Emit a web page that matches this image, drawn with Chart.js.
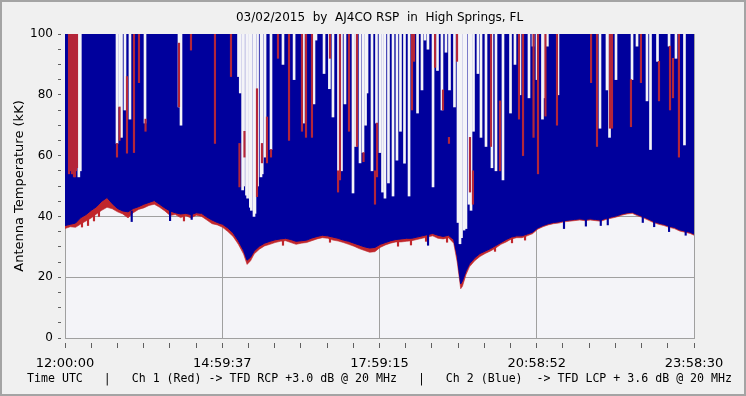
<!DOCTYPE html>
<html>
<head>
<meta charset="utf-8">
<script src="https://cdn.jsdelivr.net/npm/chart.js@4/dist/chart.umd.min.js"></script>
<style>
html, body { margin: 0; padding: 0; background: #f0f0f0; }
#wrap { width: 746px; height: 396px; }
</style>
</head>
<body>
<div id="wrap"><canvas id="chart" width="746" height="396"></canvas></div>
<script>
// time axis is minutes after 12:00:00 UTC, end at 23:58:30
const spanMinutes = 718.5;
const majorLabels = ['12:00:00', '14:59:37', '17:59:15', '20:58:52', '23:58:30'];
const titleText = '03/02/2015  by  AJ4CO RSP  in  High Springs, FL';
const xTitleText = 'Time UTC   |   Ch 1 (Red) -> TFD RCP +3.0 dB @ 20 MHz   |   Ch 2 (Blue)  -> TFD LCP + 3.6 dB @ 20 MHz';

// lower edge of the two channels (kK)
const envTimes = [0, 6, 12, 18, 24, 30, 36, 42, 48, 54, 60, 66,
    72, 78, 84, 90, 96, 102, 108, 114, 120, 126, 132, 138,
    144, 150, 156, 162, 168, 174, 180, 186, 192, 198, 204, 208,
    212, 216, 222, 228, 234, 240, 246, 252, 258, 264, 270, 276,
    282, 288, 294, 300, 306, 312, 318, 324, 330, 336, 342, 348,
    354, 360, 366, 372, 378, 384, 390, 396, 402, 408, 414, 420,
    426, 432, 438, 444, 448, 452, 454, 458, 462, 468, 474, 480,
    486, 492, 498, 504, 510, 516, 522, 528, 534, 540, 546, 552,
    558, 564, 570, 576, 582, 588, 594, 600, 606, 612, 618, 624,
    630, 636, 642, 648, 654, 660, 666, 672, 678, 684, 690, 696,
    702, 708, 714, 718.5];
const redLow = [36.0, 36.6, 36.4, 37.5, 38.5, 39.5, 40.8, 42.0, 43.0, 42.5, 41.5, 40.8,
    39.5, 41.2, 42.3, 42.8, 43.6, 44.0, 43.0, 41.8, 40.3, 40.6, 39.6, 40.2,
    39.5, 40.4, 40.0, 38.8, 37.6, 37.2, 36.4, 35.0, 33.4, 30.8, 27.6, 24.2,
    25.4, 27.6, 29.2, 30.3, 30.8, 31.4, 31.8, 32.0, 31.4, 30.8, 31.2, 31.4,
    32.0, 32.6, 33.0, 32.8, 32.2, 31.9, 31.4, 30.8, 30.2, 29.4, 28.8, 28.2,
    28.4, 29.8, 30.6, 31.2, 31.6, 31.6, 31.8, 32.0, 32.4, 32.8, 33.2, 33.6,
    32.8, 32.6, 33.0, 31.2, 25.0, 16.2, 17.0, 20.8, 23.4, 25.4, 26.8, 27.8,
    28.6, 29.6, 30.8, 31.6, 32.6, 33.0, 33.0, 33.6, 34.3, 35.8, 36.6, 37.2,
    37.6, 37.8, 38.2, 38.4, 38.6, 38.8, 38.6, 38.8, 38.6, 38.4, 39.0, 39.4,
    39.8, 40.4, 40.8, 41.0, 40.2, 39.6, 38.8, 38.0, 37.4, 37.0, 36.4, 36.0,
    35.2, 34.8, 34.4, 33.8];
const blueLow = [37.0, 37.4, 37.8, 39.6, 40.6, 42.0, 43.2, 45.0, 46.2, 44.2, 42.6, 41.8,
    41.5, 42.6, 43.2, 44.0, 44.6, 45.2, 44.0, 42.8, 41.8, 41.2, 40.8, 41.0,
    40.6, 41.2, 41.0, 39.8, 38.8, 38.0, 37.4, 36.2, 34.6, 32.0, 28.8, 25.6,
    26.6, 28.6, 30.2, 31.2, 31.8, 32.3, 32.6, 32.8, 32.4, 31.8, 32.0, 32.2,
    32.9, 33.4, 33.8, 33.6, 33.2, 32.8, 32.2, 31.8, 31.2, 30.6, 30.0, 29.6,
    29.8, 30.8, 31.4, 32.0, 32.4, 32.6, 32.8, 32.8, 33.2, 33.6, 34.0, 34.4,
    33.8, 33.4, 33.8, 32.4, 27.0, 17.8, 18.8, 22.0, 24.4, 26.4, 27.8, 28.6,
    29.4, 30.4, 31.4, 32.4, 33.2, 33.6, 33.6, 34.2, 34.8, 36.2, 37.0, 37.6,
    38.0, 38.2, 38.6, 38.8, 39.0, 39.2, 39.0, 39.2, 39.0, 38.8, 39.4, 39.8,
    40.2, 40.8, 41.2, 41.4, 40.6, 40.0, 39.2, 38.4, 37.8, 37.4, 36.8, 36.4,
    35.6, 35.2, 34.8, 34.2];

// short dips under the lower edge: minute, lowest value
const blueDipTimes = [76.2, 120.0, 144.7, 414.7, 570.0, 595.0, 612.0, 620.0, 660.0, 673.0, 690.0, 709.0];
const blueDipLows = [38.3, 38.6, 39.0, 30.5, 36.0, 36.8, 37.0, 37.2, 38.0, 36.6, 35.0, 33.8];
const redDipTimes = [19.4, 26.3, 33.1, 38.8, 135.9, 249.0, 302.7, 380.4, 395.2, 412.4, 436.4, 491.2, 510.6, 525.5];
const redDipLows = [36.5, 37.0, 38.5, 40.0, 38.5, 30.5, 31.5, 30.2, 30.6, 31.8, 31.5, 28.5, 31.3, 32.2];

// columns where neither channel reaches the top: minute, lowest empty value
const gapTimes = [15.8, 17.5, 59.4, 62.3, 64.5, 68.5, 74.2, 91.4, 130.2, 132.5,
    198.2, 200.2, 202.9, 204.0, 207.3, 208.6, 211.7, 212.9, 215.9, 217.0,
    220.0, 223.9, 225.3, 228.5, 235.3, 249.0, 261.7, 272.4, 284.4, 286.7,
    295.9, 302.0, 306.1, 312.4, 315.8, 319.8, 329.0, 331.8, 337.0, 340.4,
    343.3, 345.0, 350.7, 355.8, 359.8, 362.7, 365.5,
    369.5, 374.7, 379.2, 383.2, 387.8, 393.0, 402.7, 407.8, 411.2, 414.6,
    420.4, 425.5, 430.6, 435.2, 439.2, 444.9, 448.9, 451.2, 452.9, 455.8,
    458.0, 461.5, 463.8, 466.6, 471.7, 475.2, 480.9, 487.7, 492.3, 500.3,
    508.9, 514.0, 519.7, 530.0, 534.6, 539.2, 545.4, 547.7, 551.0, 563.1,
    611.1, 619.1, 622.0, 629.4, 647.7, 653.4, 664.8, 668.8, 676.8, 690.0,
    697.9, 707.6];
const gapLows = [53, 55, 64, 76, 66, 75, 72, 70.7, 76, 70,
    86, 80.6, 48.7, 50, 47, 46, 43, 42, 40, 41,
    50, 53, 54, 59.5, 62, 90, 85, 70.7, 77, 98,
    87, 82, 72.7, 54, 55, 77, 47.7, 63, 57.6, 61,
    70, 80.6, 55, 70.7, 61, 48, 46,
    51, 46.7, 58.5, 68, 57.5, 46.7, 74, 81.6, 98, 95,
    49.7, 88, 75, 94, 81.6, 76, 38, 31, 33, 35.5,
    36, 44, 42, 68, 87, 66, 63, 56, 55, 52,
    74, 90, 80, 79, 96, 85, 72, 79, 96, 80,
    69, 81.6, 66, 85, 85, 96, 78, 62, 91, 96,
    92, 63.5];

// Ch 1 (red) spikes showing above the blue: minute, low, high
const redSpikeTimes = [4.6, 5.7, 6.9, 8.0, 9.1, 10.3, 11.4, 12.6, 13.7,
    59.4, 62.3, 70.8, 78.8, 84.5,
    92.0, 130.2, 143.9, 171.3, 189.6, 199.3, 205.0, 219.3, 225.0, 230.7,
    235.3, 243.3, 255.9, 270.7, 275.3, 282.1, 302.7, 311.9, 314.1, 324.4,
    333.5, 341.0, 354.1, 356.4, 396.4, 398.7, 422.7, 431.8, 438.6, 447.8,
    462.6, 466.0, 486.6, 496.9, 518.6, 523.2, 535.2, 540.3, 548.8, 562.0,
    600.9, 607.7, 622.5, 624.8, 646.5, 657.9, 678.5, 691.1, 694.5, 701.3];
const redSpikeLows = [54, 56, 55, 54, 54, 53, 53, 55, 56,
    59.5, 65, 60.8, 61, 84,
    68, 76, 94.7, 64, 86, 49.7, 59.5, 46.5, 57.6, 57.6,
    59.5, 92, 65, 68, 66, 66, 92, 48, 52, 68,
    63, 58, 44, 53, 75, 91, 89, 75, 64, 91,
    48, 44, 63, 55, 72, 60, 66, 54, 73, 70,
    84, 63, 69, 69, 69.5, 84, 78, 75, 79, 59.5];
const redSpikeHighs = [100, 100, 100, 100, 100, 100, 100, 100, 100,
    64, 76, 86, 100, 100,
    72, 97, 100, 100, 100, 64, 68, 82, 64, 72.7,
    62, 100, 100, 100, 100, 100, 100, 55, 100, 100,
    100, 61, 55, 70.7, 100, 100, 100, 81.6, 66, 100,
    66, 55, 100, 78, 100, 100, 100, 100, 100, 100,
    100, 100, 100, 100, 85, 100, 91, 96, 92, 100];

const RED = '#c0262c';
const SPIKE_RED = '#b4263a';
const BLUE = '#00009c';
const PLOT_BG = '#f4f4f8';
const DIP_DEPTH = 3.5;

const frame = {
    id: 'frame',
    beforeDraw(chart) {
        const { ctx, chartArea: a } = chart;
        ctx.save();
        ctx.fillStyle = '#f0f0f0';
        ctx.fillRect(0, 0, chart.width, chart.height);
        ctx.strokeStyle = '#a4a4a4';
        ctx.lineWidth = 2;
        ctx.strokeRect(1, 1, chart.width - 2, chart.height - 2);
        ctx.fillStyle = PLOT_BG;
        ctx.fillRect(a.left, a.top, a.right - a.left, a.bottom - a.top);
        ctx.restore();
    },
    afterDraw(chart) {
        // title and x caption centred on the plot, wider than the axis
        const { ctx, chartArea: a } = chart;
        const cx = (a.left + a.right) / 2;
        ctx.save();
        ctx.fillStyle = '#000';
        ctx.textAlign = 'center';
        ctx.textBaseline = 'middle';
        ctx.font = '12px "DejaVu Sans"';
        ctx.fillText(titleText, cx, 18);
        ctx.font = '11.6px "DejaVu Sans Mono"';
        ctx.fillText(xTitleText, cx, 378.5);
        ctx.restore();
    }
};

const xTicks = [];
for (let i = 0; i <= 24; i++) xTicks.push(i * spanMinutes / 24);

new Chart(document.getElementById('chart'), {
    type: 'line',
    data: {
        datasets: [{
            label: 'Ch 1 (Red)',
            data: envTimes.map((t, i) => ({ x: t, y: redLow[i] })),
            borderColor: RED,
            backgroundColor: RED,
            borderWidth: 0.6,
            pointRadius: 0,
            tension: 0,
            fill: 'end',
            order: 7
        }, {
            type: 'bar',
            label: 'Ch 1 dips',
            data: redDipTimes.map((t, i) => ({ x: t, y: [redDipLows[i], redDipLows[i] + DIP_DEPTH] })),
            backgroundColor: RED,
            barThickness: 1.5,
            grouped: false,
            order: 6
        }, {
            label: 'Ch 2 (Blue)',
            data: envTimes.map((t, i) => ({ x: t, y: blueLow[i] })),
            borderColor: BLUE,
            backgroundColor: BLUE,
            borderWidth: 1,
            pointRadius: 0,
            tension: 0,
            fill: 'end',
            order: 5
        }, {
            type: 'bar',
            label: 'Ch 2 dips',
            data: blueDipTimes.map((t, i) => ({ x: t, y: [blueDipLows[i], blueDipLows[i] + DIP_DEPTH] })),
            backgroundColor: BLUE,
            barThickness: 1.5,
            grouped: false,
            order: 4
        }, {
            type: 'bar',
            label: 'gaps',
            data: gapTimes.map((t, i) => ({ x: t, y: [gapLows[i], 100] })),
            backgroundColor: PLOT_BG,
            barThickness: 2,
            grouped: false,
            order: 3
        }, {
            type: 'bar',
            label: 'Ch 1 spikes',
            data: redSpikeTimes.map((t, i) => ({ x: t, y: [redSpikeLows[i], redSpikeHighs[i]] })),
            backgroundColor: SPIKE_RED,
            barThickness: 1.5,
            grouped: false,
            order: 1
        }]
    },
    options: {
        responsive: false,
        animation: false,
        events: [],
        devicePixelRatio: 1,
        layout: { padding: { left: 0, right: 52, top: 34, bottom: 0 } },
        plugins: {
            legend: { display: false },
            tooltip: { enabled: false },
            title: { display: false }
        },
        scales: {
            x: {
                type: 'linear',
                min: 0,
                max: spanMinutes,
                offset: false,
                afterBuildTicks: s => { s.ticks = xTicks.map(v => ({ value: v })); },
                afterFit: s => { s.height = 58; },
                ticks: {
                    autoSkip: false,
                    maxRotation: 0,
                    padding: 8,
                    color: '#000',
                    font: { family: 'DejaVu Sans', size: 13 },
                    callback: (v, i) => (i % 6 === 0 ? majorLabels[i / 6] : '')
                },
                grid: {
                    offset: false,
                    color: c => (c.index % 6 === 0 ? '#a0a0a0' : 'rgba(0,0,0,0)'),
                    tickColor: '#606060',
                    tickLength: 10,
                    tickBorderDash: [0, 4, 6, 20]
                },
                border: { color: '#a0a0a0' },
                title: { display: false }
            },
            y: {
                min: 0,
                max: 100,
                afterFit: s => { s.width = 65; },
                ticks: {
                    stepSize: 5,
                    autoSkip: false,
                    padding: 5,
                    color: '#000',
                    font: { family: 'DejaVu Sans', size: 12 },
                    callback: v => (v % 20 === 0 ? v : '')
                },
                grid: {
                    color: c => {
                        const v = c.tick ? c.tick.value : 0;
                        return (v % 20 === 0 && v > 0 && v < 100) ? '#a0a0a0' : 'rgba(0,0,0,0)';
                    },
                    tickColor: '#606060',
                    tickLength: 7,
                    tickBorderDash: [3, 20]
                },
                border: { color: '#a0a0a0' },
                title: {
                    display: true,
                    text: 'Antenna Temperature (kK)',
                    color: '#000',
                    font: { family: 'DejaVu Sans', size: 13 },
                    padding: { top: 12, bottom: 0 }
                }
            }
        }
    },
    plugins: [frame]
});
</script>
</body>
</html>
